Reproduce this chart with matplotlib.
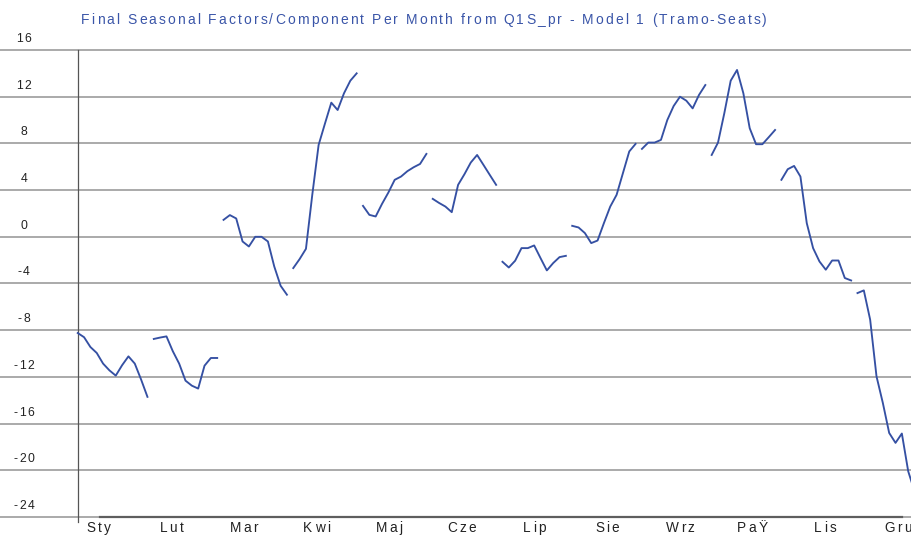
import numpy as np
import matplotlib
matplotlib.use('Agg')
import matplotlib.pyplot as plt

plt.rcParams['font.family'] = ['Liberation Sans', 'DejaVu Sans']

title = "Final Seasonal Factors/Component Per Month from Q1S_pr - Model 1 (Tramo-Seats)"
months = ['Sty', 'Lut', 'Mar', 'Kwi', 'Maj', 'Cze', 'Lip', 'Sie', 'Wrz', 'PaŸ', 'Lis', 'Gru']

# seasonal factor per month, one value per year
sty = [-8.24, -8.6, -9.44, -9.95, -10.86, -11.44, -11.89, -11.0, -10.24, -10.86, -12.23, -13.71]
lut = [-8.75, -8.63, -8.53, -9.8, -10.86, -12.32, -12.75, -13.0, -11.04, -10.38, -10.38]
mar = [1.45, 1.86, 1.57, -0.40, -0.83, 0.0, 0.0, -0.40, -2.54, -4.19, -4.96]
kwi = [-2.68, -1.91, -1.03, 3.6, 7.87, 9.7, 11.49, 10.86, 12.29, 13.37, 14.0]
maj = [2.65, 1.88, 1.74, 2.82, 3.79, 4.88, 5.16, 5.62, 5.96, 6.24, 7.10]
cze = [3.25, 2.9, 2.59, 2.11, 4.45, 5.36, 6.36, 7.01, 6.16, 5.30, 4.45]
lip = [-2.14, -2.63, -2.05, -0.97, -0.97, -0.74, -1.82, -2.88, -2.25, -1.74, -1.63]
sie = [0.94, 0.80, 0.32, -0.54, -0.32, 1.17, 2.59, 3.59, 5.45, 7.31, 7.96]
wrz = [7.53, 8.07, 8.07, 8.30, 10.0, 11.2, 12.0, 11.66, 11.0, 12.15, 13.0]
paz = [7.01, 8.07, 10.6, 13.37, 14.29, 12.29, 9.30, 7.93, 7.93, 8.53, 9.15]
lis = [4.88, 5.79, 6.07, 5.16, 1.17, -0.97, -2.11, -2.82, -2.03, -2.03, -3.53, -3.74]
gru = [-4.82, -4.59, -7.10, -11.95, -14.23, -16.8, -17.65, -16.85, -20.08, -21.8]

factors = [sty, lut, mar, kwi, maj, cze, lip, sie, wrz, paz, lis, gru]
y_ticks = list(range(-24, 17, 4))

W, H = 912, 535
line_blue = '#3550a3'
grid_gray = '#9c9c9c'


def spaced_text(fig, xc, yc, s, gap=None, width=None, **kw):
    """ Draw a string char by char with extra letter spacing (pixel coords, y from top) """
    r = fig.canvas.get_renderer()
    fs = kw.get('fontsize', 10)
    widths = []
    for ch in s:
        if ch == ' ':
            widths.append(fs * 0.278 * fig.dpi / 72)
            continue
        t = fig.text(0, 0, ch, **kw)
        widths.append(t.get_window_extent(r).width)
        t.remove()
    if width is not None:
        gap = (width - sum(widths)) / max(len(s) - 1, 1)
    total = sum(widths) + gap * (len(s) - 1)
    x = xc - total / 2
    for ch, w in zip(s, widths):
        fig.text(x / W, 1 - yc / H, ch, ha='left', va='center', **kw)
        x += w + gap


def to_px(g, v):
    """ axis units -> pixel position in the figure """
    disp = ax.transData.transform((g, v))
    return disp[0], H - disp[1]


fig = plt.figure(figsize=(W / 100, H / 100), dpi=100)
ax = fig.add_axes([0, 18 / H, 1, 467 / H])
ax.set_xlim(-12.26, 131.6)
ax.set_ylim(-24, 16)
ax.axis('off')

# horizontal grid and value labels
for v in y_ticks:
    ax.axhline(v, color=grid_gray, lw=1.2, zorder=1, clip_on=False)
    px, py = to_px(-8.5, v)
    spaced_text(fig, px, py - 11, str(v), gap=1.5, fontsize=8.8, color='#222222')

# axis lines
ax.plot([0, 0], [-24.4, 16], color='#555555', lw=0.9, zorder=2, clip_on=False)
ax.plot([3.5, 130], [-24, -24], color='#5e5e5e', lw=1.6, zorder=2, clip_on=False)

# one separate line per month
start = 0
for vals in factors:
    x = start + np.arange(len(vals))
    ax.plot(x, vals, color=line_blue, lw=1.35, zorder=3)
    start += len(vals)

month_pos = 3.3 + 11.46 * np.arange(len(months))
for pos, name in zip(month_pos, months):
    px, py = to_px(pos, -24)
    spaced_text(fig, px, py + 11, name, gap=2.3, fontsize=9.8, color='#222222')

spaced_text(fig, 424, 20, title, width=686, fontsize=10, color='#3a55a8')

fig.savefig('out.png', dpi=100)
